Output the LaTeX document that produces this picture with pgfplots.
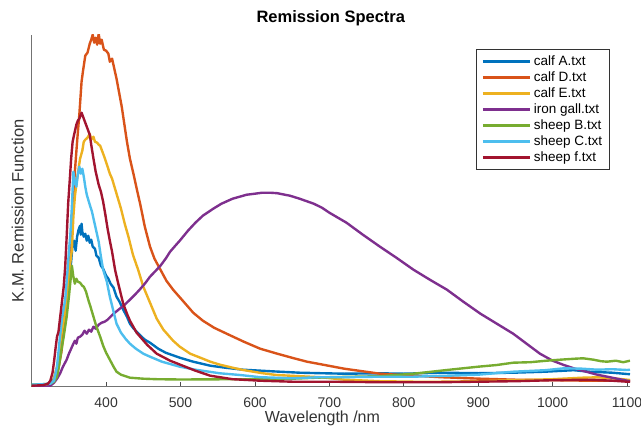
\documentclass[border=0pt]{standalone}
\usepackage{fontspec}
\setmainfont{Liberation Sans}
\usepackage{pgfplots}
\pgfplotsset{compat=1.18}
\definecolor{mA}{rgb}{0,0.447,0.741}
\definecolor{mD}{rgb}{0.85,0.325,0.098}
\definecolor{mE}{rgb}{0.929,0.694,0.125}
\definecolor{mG}{rgb}{0.494,0.184,0.556}
\definecolor{mB}{rgb}{0.466,0.674,0.188}
\definecolor{mC}{rgb}{0.301,0.745,0.933}
\definecolor{mF}{rgb}{0.635,0.078,0.184}
\begin{document}
\begin{tikzpicture}
\begin{axis}[
  scale only axis,
  width=598.3bp, height=351.7bp,
  xmin=300, xmax=1104, ymin=0, ymax=351.7,
  axis x line*=bottom, axis y line*=left,
  axis line style={black!55, line width=0.7pt},
  xtick={400,500,...,1100}, ytick=\empty,
  xtick align=inside,
  major tick length=5bp,
  tick style={black!70, line width=0.7pt},
  /pgf/number format/assume math mode=true,
  /pgf/number format/set thousands separator={},
  xticklabel style={font=\fontsize{14bp}{16bp}\selectfont, text=black!80, yshift=-8bp},
  every axis title shift=0pt,
  title={\textbf{Remission Spectra}},
  title style={at={(0.5,1.0483)}, anchor=center, font=\fontsize{16.5bp}{18bp}\selectfont},
  xlabel={Wavelength /nm},
  xlabel style={at={(0.486,-0.0905)}, anchor=center, font=\fontsize{16bp}{18bp}\selectfont, text=black!80},
  ylabel={K.M. Remission Function},
  ylabel style={at={(-0.0234,0.5)}, anchor=center, font=\fontsize{16.5bp}{18bp}\selectfont, text=black!80},
  legend style={at={(0.9666,0.960)}, anchor=north east, draw=black!80, line width=0.7pt,
    font=\fontsize{13.5bp}{15.5bp}\selectfont, row sep=0.8bp, inner xsep=5bp, inner ysep=4bp,
    nodes={inner xsep=2.5bp}},
  legend cell align=left,
  legend image code/.code={\draw[#1, line width=3pt] (0bp,0bp) -- (47bp,0bp);},
  every axis plot/.append style={line width=2.4pt, line join=round},
]
\addplot[mA] coordinates {
(300,1.5)(310,2)(320,2.5)(326,4)(330,8)(334,18)(338,35)(342,60)(346,85)(350,105)(353,125)(355,143)(357,146)(359,136)(361,150)(363,157)(365,161)(366,152)(367,163)(368,155)(370,150)(372,153)(374,146)(376,151)(378,144)(380,147)(382,140)(385,138)(387,131)(390,129)(393,121)(396,118)(400,111)(403,108)(406,103)(410,99)(414,90)(418,85)(423,77)(428,70)(432,63)(437,58)(445,52)(452,47)(459,44)(470,38)(480,34)(499,29)(517,25)(540,21)(560,19)(584,17)(620,15.5)(660,14)(688,13.5)(720,13)(768,13.4)(800,13)(850,14)(900,13.5)(947,14)(990,15)(1028,16.5)(1050,15)(1080,14)(1100,12.7)(1104,12.5)
};
\addlegendentry{calf A.txt}
\addplot[mD] coordinates {
(300,1)(315,1.5)(325,2)(330,5)(335,15)(340,35)(345,70)(350,120)(355,180)(358,215)(361,245)(364,272)(367,305)(369,316)(372,331)(375,334)(378,343)(380,347)(382,352)(384,344)(386,349)(388,342)(390,353)(392,343)(394,347)(397,337)(400,336)(403,333)(405,325)(408,328)(411,318)(414,308)(417,296)(421,280)(425,260)(428,245)(432,228)(437,212)(442,195)(446,182)(452,160)(459,140)(465,128)(473,117)(481,106)(490,97)(503,86)(517,74)(530,66)(545,59)(562,53)(585,45)(607,38)(630,33)(652,28.5)(670,25)(688,22.5)(720,18)(768,13)(813,11)(850,9.5)(903,8)(950,7)(1000,6.5)(1050,6)(1100,6)(1104,6)
};
\addlegendentry{calf D.txt}
\addplot[mE] coordinates {
(300,1)(320,1.5)(328,3)(334,20)(337,35)(340,53)(344,70)(347,87)(350,110)(352,125)(354,137)(356,170)(358,190)(361,208)(363,218)(365,228)(368,236)(370,245)(372,247)(375,249)(378,253)(380,247)(383,250)(385,245)(388,244)(390,242)(392,241)(395,235)(398,229)(402,220)(405,213)(408,208)(412,198)(416,188)(420,178)(425,163)(430,150)(436,132)(443,117)(450,100)(459,84)(468,68)(477,57)(490,46)(499,40)(513,33)(530,28)(540,25)(553,22)(570,19)(584,16.7)(610,13.5)(629,11.7)(660,10.5)(688,9.5)(720,7)(768,5.5)(813,5)(850,5)(903,5.5)(950,6.5)(1000,7.5)(1040,9)(1060,9.4)(1080,8.5)(1100,7)(1104,6.7)
};
\addlegendentry{calf E.txt}
\addplot[mG] coordinates {
(300,0)(320,0)(325,1)(330,4)(334,8)(338,13)(342,20)(347,27)(350,33)(353,38)(356,43)(358,46)(360,43)(362,49)(365,50)(368,52)(371,56)(374,53)(377,57)(380,55)(383,60)(386,58)(390,62)(394,64)(398,65)(402,67)(406,70)(410,73)(415,76)(420,79)(425,82)(432,87)(440,93)(445,97)(452,103)(459,110)(468,117)(473,121)(480,128)(486,135)(493,141)(499,146)(510,156)(520,164)(530,171)(544,178)(555,183)(570,188)(589,192)(600,193)(610,194)(620,194)(630,193.5)(640,192)(647,191)(660,188)(679,183)(690,179)(700,174)(723,164)(745,152)(768,140)(790,129)(813,117)(835,107)(858,97)(880,85)(903,73)(925,63)(947,53)(965,43)(983,33)(1000,26)(1015,21.7)(1030,18)(1045,15)(1060,12)(1080,9)(1100,6)(1104,5.5)
};
\addlegendentry{iron gall.txt}
\addplot[mB] coordinates {
(300,2)(315,2.5)(325,3)(330,5)(334,10)(337,22)(340,37)(343,50)(347,70)(350,90)(352,105)(354,121)(356,110)(358,103)(360,108)(362,105)(365,104)(368,101)(370,100)(373,95)(376,87)(379,80)(383,70)(387,60)(392,50)(396,41)(400,34)(405,27)(410,20)(414,15)(420,12)(432,9)(450,8)(468,7.5)(500,7.2)(553,7.4)(600,7.5)(650,8)(700,9.5)(768,10.5)(813,13)(858,16.7)(900,20)(925,21.7)(947,24)(970,24.5)(992,26)(1010,27)(1030,28)(1041,28.4)(1055,27)(1065,25.5)(1073,25)(1085,26)(1095,24.5)(1104,26)
};
\addlegendentry{sheep B.txt}
\addplot[mC] coordinates {
(300,2)(315,2.5)(325,3)(330,6)(334,20)(338,50)(341,70)(345,87)(348,115)(350,135)(352,153)(354,180)(356,215)(358,204)(360,200)(362,212)(364,220)(366,213)(368,218)(370,210)(372,200)(374,192)(376,187)(378,182)(381,175)(384,165)(387,155)(390,145)(393,130)(396,117)(401,105)(405,90)(410,75)(414,63)(420,54)(426,48)(432,43)(440,38)(450,33)(459,30)(475,25)(499,20)(520,17)(553,13.4)(580,11.7)(607,9.5)(650,8.4)(688,9.5)(720,9.5)(768,10)(813,10)(858,11)(900,12)(947,15)(990,16.5)(1015,18.4)(1040,18)(1060,17)(1080,17.5)(1100,16.7)(1104,17)
};
\addlegendentry{sheep C.txt}
\addplot[mF] coordinates {
(300,1)(315,1.5)(322,3)(325,6)(328,14)(330,25)(332,38)(334,50)(336,55)(338,68)(341,87)(343,100)(345,120)(347,150)(349,183)(351,205)(353,228)(355,245)(357,252)(360,262)(362,266)(364,268)(366,272)(367,274)(369,270)(371,266)(373,262)(375,258)(378,252)(380,242)(383,228)(386,215)(390,202)(393,195)(396,185)(399,172)(402,158)(405,146)(408,135)(412,117)(416,104)(419,95)(423,83)(428,73)(432,66)(441,54)(455,42)(468,33)(486,26)(503,21)(520,16)(540,11)(570,7.5)(607,6)(650,5)(700,5)(768,4.5)(850,4.5)(900,5)(950,5.5)(1000,6.5)(1050,7)(1080,6)(1100,5)(1104,5)
};
\addlegendentry{sheep f.txt}
\end{axis}
\pgfresetboundingbox
\path ([xshift=-31.7bp,yshift=-41.3bp]current axis.south west) rectangle ([xshift=11bp,yshift=35bp]current axis.north east);
\end{tikzpicture}
\end{document}
